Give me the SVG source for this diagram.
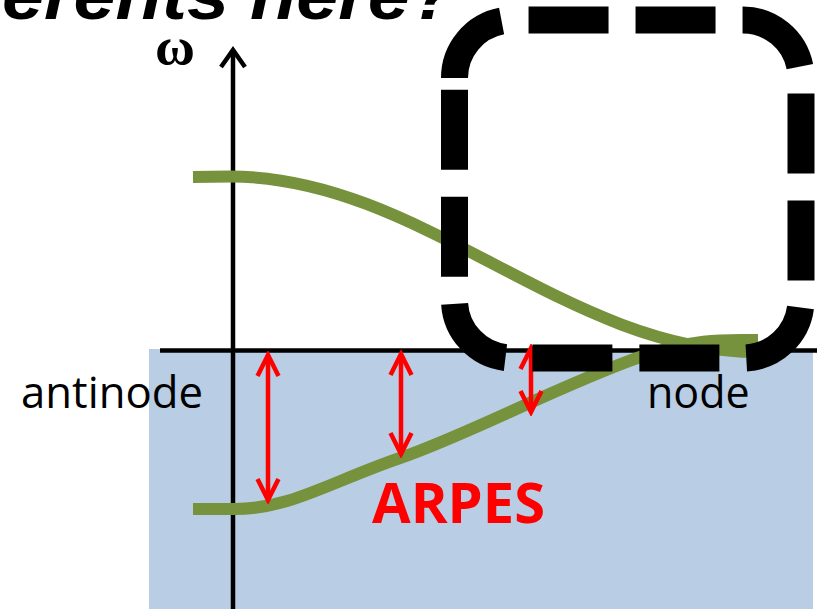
<svg xmlns="http://www.w3.org/2000/svg" width="817" height="609" viewBox="0 0 817 609">
<defs>
<style>
.axis{stroke:#000;stroke-width:4.5;fill:none}
.band{stroke:#76923c;stroke-width:12;fill:none;stroke-linecap:butt}
.red{stroke:#ff0000;stroke-width:4.5;fill:none}
.lbl{font-family:"Open Sans","Liberation Sans",sans-serif;font-size:43px;fill:#000}
</style>
<marker id="axhead" markerUnits="userSpaceOnUse" viewBox="-20 -14 24 28" markerWidth="24" markerHeight="28" refX="0" refY="0" orient="auto">
<path d="M-17,-12 L0,0 L-17,12" fill="none" stroke="#000" stroke-width="4.5" stroke-linejoin="miter"/>
</marker>
<marker id="redhead" markerUnits="userSpaceOnUse" viewBox="-24 -14 28 28" markerWidth="28" markerHeight="28" refX="0" refY="0" orient="auto-start-reverse">
<path d="M-21,-10.5 L0,0 L-21,10.5" fill="none" stroke="#ff0000" stroke-width="4.5" stroke-linejoin="miter"/>
</marker>
</defs>
<rect id="occupied" x="149" y="349" width="664" height="260" fill="#b9cde4"/>
<g id="title">
<text x="2" y="19" textLength="454" lengthAdjust="spacingAndGlyphs" font-family="'Liberation Sans',Arial,sans-serif" font-weight="bold" font-style="italic" font-size="68" fill="#000">erents here?</text>
</g>
<g id="axes">
<line class="axis" x1="160" y1="350.5" x2="817" y2="350.5"/>
<line class="axis" x1="233" y1="609" x2="233" y2="50" marker-end="url(#axhead)"/>
</g>
<g id="bands">
<path class="band" d="M193,177 L230,176.5 C422,176.5 566,352 758,352"/>
<path class="band" d="M193,509 L235,509 C290,509 330,482 400,458 C470,434 560,385 640,357 C697,337 730,340 758,340"/>
</g>
<g id="arrows">
<line class="red" x1="268" y1="355" x2="268" y2="500" marker-start="url(#redhead)" marker-end="url(#redhead)"/>
<line class="red" x1="401" y1="354" x2="401" y2="454" marker-start="url(#redhead)" marker-end="url(#redhead)"/>
<line class="red" x1="531" y1="348" x2="531" y2="412" marker-start="url(#redhead)" marker-end="url(#redhead)"/>
</g>
<g id="labels">
<text x="175" y="64" text-anchor="middle" textLength="40" lengthAdjust="spacingAndGlyphs" font-family="'Liberation Serif','Times New Roman',serif" font-weight="bold" font-size="52" fill="#000">ω</text>
<text class="lbl" x="21" y="408" textLength="182" lengthAdjust="spacingAndGlyphs">antinode</text>
<text class="lbl" x="647" y="408">node</text>
<text x="372" y="523" font-family="'Open Sans','Liberation Sans',sans-serif" font-weight="bold" font-size="56" fill="#ff0000">ARPES</text>
</g>
<g id="highlight">
<path d="M454.5,78 A58,58 0 0 1 512.5,20 L743,20 A58,58 0 0 1 801,78 L801,300 A58,58 0 0 1 743,358 L512.5,358 A58,58 0 0 1 454.5,300 Z" fill="none" stroke="#000" stroke-width="27" stroke-dasharray="80 27" stroke-linecap="butt"/>
</g>
</svg>
